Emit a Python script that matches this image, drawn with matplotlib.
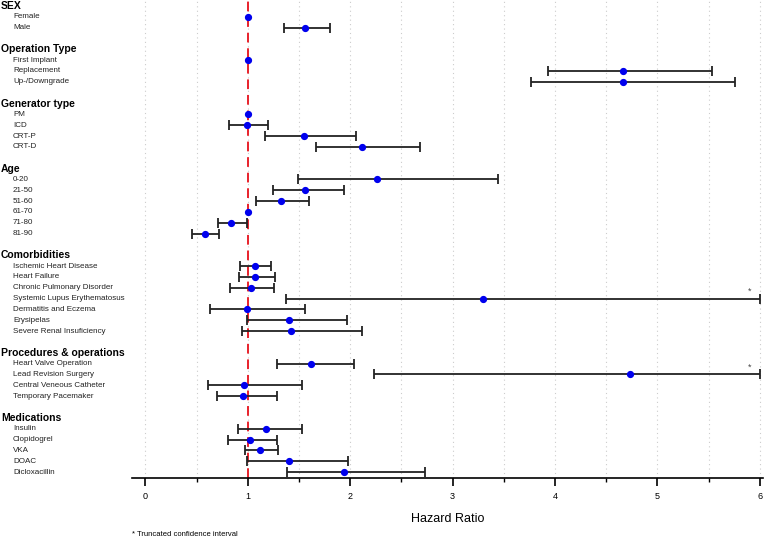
import numpy as np
import matplotlib.pyplot as plt
import matplotlib.transforms as mtrans

plt.rcParams['font.family'] = ['Liberation Sans', 'DejaVu Sans']

nan = np.nan

# groups, rows and hazard ratios (nan = reference category, no CI)
groups = ['SEX', 'Operation Type', 'Generator type', 'Age', 'Comorbidities',
          'Procedures & operations', 'Medications']
labels = [
    ['Female', 'Male'],
    ['First Implant', 'Replacement', 'Up-/Downgrade'],
    ['PM', 'ICD', 'CRT-P', 'CRT-D'],
    ['0-20', '21-50', '51-60', '61-70', '71-80', '81-90'],
    ['Ischemic Heart Disease', 'Heart Failure', 'Chronic Pulmonary Disorder',
     'Systemic Lupus Erythematosus', 'Dermatitis and Eczema', 'Erysipelas',
     'Severe Renal Insuficiency'],
    ['Heart Valve Operation', 'Lead Revision Surgery', 'Central Veneous Catheter',
     'Temporary Pacemaker'],
    ['Insulin', 'Clopidogrel', 'VKA', 'DOAC', 'Dicloxacillin'],
]
hr = [
    [1.0, 1.56],
    [1.0, 4.66, 4.66],
    [1.0, 0.99, 1.55, 2.12],
    [2.26, 1.56, 1.32, 1.0, 0.84, 0.58],
    [1.07, 1.07, 1.03, 3.30, 0.99, 1.40, 1.42],
    [1.62, 4.73, 0.96, 0.95],
    [1.18, 1.02, 1.12, 1.40, 1.94],
]
lo = [
    [nan, 1.35],
    [nan, 3.93, 3.77],
    [nan, 0.82, 1.17, 1.67],
    [1.49, 1.25, 1.08, nan, 0.71, 0.46],
    [0.92, 0.91, 0.83, 1.37, 0.63, 0.99, 0.94],
    [1.29, 2.23, 0.61, 0.70],
    [0.90, 0.81, 0.97, 0.99, 1.38],
]
hi = [
    [nan, 1.80],
    [nan, 5.53, 5.76],
    [nan, 1.20, 2.06, 2.68],
    [3.44, 1.94, 1.60, nan, 0.99, 0.72],
    [1.23, 1.27, 1.26, 6.0, 1.56, 1.97, 2.12],
    [2.04, 6.0, 1.53, 1.29],
    [1.53, 1.29, 1.30, 1.98, 2.73],
]
truncated = ['Systemic Lupus Erythematosus', 'Lead Revision Surgery']

fig = plt.figure(figsize=(7.74, 5.39), dpi=100)
ax = fig.add_axes([132 / 774, 61 / 539, 631 / 774, 478 / 539])

# lay out rows: header row, items, blank row between groups
ypos, xs, los, his, names = [], [], [], [], []
headers = []
row = 0
for g, labs, h, l, u in zip(groups, labels, hr, lo, hi):
    headers.append((g, row))
    row += 1
    for name, a, b, c in zip(labs, h, l, u):
        ypos.append(row)
        names.append(name)
        xs.append(a)
        los.append(b)
        his.append(c)
        row += 1
    row += 1

ypos = np.array(ypos, dtype=float)
xs = np.array(xs)
los = np.array(los)
his = np.array(his)

# grid
for gx in np.arange(0, 6.01, 0.5):
    ax.axvline(gx, color='#cccccc', linestyle=(0, (1, 3)), linewidth=0.8, zorder=0)

ax.axvline(1, color='#e8212b', linestyle=(0, (5, 3)), linewidth=1.4, zorder=1)

has_ci = ~np.isnan(los)
ax.errorbar(xs[has_ci], ypos[has_ci],
            xerr=[xs[has_ci] - los[has_ci], his[has_ci] - xs[has_ci]],
            fmt='none', ecolor='#222222', elinewidth=1.3, capsize=3.3,
            capthick=1.3, zorder=2)
ax.plot(xs, ypos, 'o', color='#0000ee', markersize=4.2, zorder=3)

for name, y in zip(names, ypos):
    if name in truncated:
        ax.text(5.9, y - 0.65, '*', fontsize=6.5, color='#444444',
                ha='center', va='center')

trans = mtrans.blended_transform_factory(fig.transFigure, ax.transData)
for g, y in headers:
    ax.text(1 / 774, y, g, transform=trans, fontsize=7.5, fontweight='bold',
            va='center', ha='left', clip_on=False)
for name, y in zip(names, ypos):
    ax.text(13 / 774, y, name, transform=trans, fontsize=5.8, color='#222222',
            va='center', ha='left', clip_on=False)

ax.set_xlim(-0.13, 6.03)
ax.set_ylim(43.55, -0.55)
ax.set_yticks([])
ax.set_xticks(range(7))
ax.set_xticks(np.arange(0.5, 6, 1), minor=True)
ax.tick_params(axis='x', which='major', length=6, width=1.2, labelsize=6.5, pad=4)
ax.tick_params(axis='x', which='minor', length=3, width=1.0)
for s in ['top', 'right', 'left']:
    ax.spines[s].set_visible(False)
ax.spines['bottom'].set_linewidth(1.2)
ax.set_xlabel('Hazard Ratio', fontsize=9, labelpad=9)

fig.text(132 / 774, 4.5 / 539, '* Truncated confidence interval', fontsize=5.5,
         ha='left', va='center')

fig.savefig('out.png', dpi=100)
